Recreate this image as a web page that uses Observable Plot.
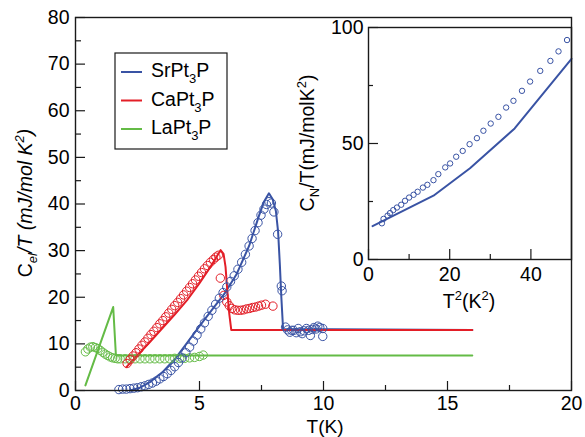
<!DOCTYPE html>
<html><head><meta charset="utf-8">
<script src="https://cdn.jsdelivr.net/npm/d3@7"></script>
<script src="https://cdn.jsdelivr.net/npm/@observablehq/plot@0.6"></script>
<style>
body{margin:0;background:#fff;}
#wrap{position:relative;width:585px;height:437px;background:#fff;}
#wrap svg{position:absolute;left:0;top:0;}
</style></head><body><div id="wrap"></div>
<script>
// ---- Main panel data ----
const srLineX = [2.2, 2.6, 3.0, 3.5, 4.0, 4.5, 5.0, 5.5, 6.0, 6.5, 7.0, 7.4, 7.6, 7.8, 7.95, 8.08, 8.17, 8.24, 8.3, 8.37, 16];
const srLineY = [0, 0.6, 1.8, 3.9, 6.7, 10.2, 13.8, 17.3, 20.7, 25.0, 31.0, 37.5, 40.5, 42.3, 41.0, 38.5, 34, 27, 20, 13.2, 13.0];
const srDotX = [1.75,1.9,2.05,2.2,2.35,2.5,2.65,2.8,2.95,3.1,3.25,3.4,3.55,3.7,3.85,4.0,4.15,4.3,4.45,4.6,4.75,4.9,5.05,5.2,5.35,5.5,5.65,5.8,5.95,6.1,6.25,6.4,6.55,6.7,6.85,7.0,7.12,7.24,7.36,7.48,7.6,7.7,7.8,7.9,8.0,8.15,8.3,8.33,
  8.47,8.55,8.64,8.72,8.8,8.9,8.98,9.06,9.14,9.22,9.31,9.4,9.47,9.55,9.61,9.7,9.77,9.85,9.97,9.97];
const srDotY = [0.2,0.3,0.3,0.4,0.5,0.6,0.8,1.0,1.3,1.6,2.0,2.5,3.0,3.6,4.3,5.1,6.0,7.0,8.1,9.3,10.6,11.9,13.2,14.5,15.9,17.2,18.5,19.8,21.0,22.2,23.4,24.6,26.0,27.5,29.2,31.0,32.6,34.3,36.0,37.6,38.9,39.9,40.5,40.2,38.3,33.5,22.4,21.4,
  13.6,13.0,12.5,12.9,12.9,12.4,13.3,12.6,12.2,12.8,13.3,12.9,11.8,13.1,13.5,13.2,13.8,13.5,13.3,11.6];

const caLineX = [2.05, 3.0, 4.0, 4.5, 5.0, 5.5, 5.85, 5.97, 6.05, 6.12, 6.2, 6.28, 16];
const caLineY = [5.0, 10.4, 16.3, 19.4, 23.0, 27.0, 30.1, 29.3, 26.5, 21.5, 16.5, 13.0, 13.0];
const caDotX = [2.08,2.2,2.32,2.44,2.56,2.68,2.8,2.92,3.04,3.16,3.28,3.4,3.52,3.64,3.76,3.88,4.0,4.12,4.24,4.36,4.48,4.6,4.72,4.84,4.96,5.08,5.2,5.32,5.44,5.56,5.66,5.76,5.84,5.98,6.1,6.2,6.3,6.42,6.54,6.66,6.78,6.9,7.02,7.14,7.26,7.38,7.5,7.66,7.96];
const caDotY = [5.8,6.6,7.4,8.1,8.9,9.7,10.4,11.2,12.0,12.7,13.5,14.3,15.0,15.8,16.6,17.4,18.2,18.9,19.7,20.5,21.3,22.1,22.9,23.7,24.5,25.3,26.1,26.8,27.5,28.1,28.6,29.0,24.1,20.4,19.0,18.2,17.6,17.3,17.2,17.2,17.3,17.5,17.6,17.8,17.9,18.1,18.3,18.5,18.1];

const laLineX = [0.4, 1.52, 1.63, 16];
const laLineY = [1.1, 17.9, 7.5, 7.5];
const laDotX = [0.4,0.5,0.6,0.7,0.8,0.9,1.0,1.1,1.2,1.3,1.4,1.5,1.6,1.7,1.8,2.0,2.2,2.4,2.6,2.8,3.0,3.2,3.4,3.6,3.8,4.0,4.2,4.4,4.6,4.8,5.0,5.15];
const laDotY = [8.3,8.9,9.3,9.4,9.2,9.0,8.6,8.2,7.8,7.5,7.2,7.0,6.9,6.8,6.8,6.8,6.8,6.8,6.8,6.8,6.8,6.8,6.8,6.8,6.8,6.9,6.9,6.9,7.0,7.1,7.3,7.6];

// ---- Inset data (C_N/T vs T^2) ----
const inLineX = [1, 16, 25, 36, 50];
const inLineY = [14.4, 27.5, 39.3, 56.5, 86.5];
const inDotX = [3.3,3.7,4.7,5.3,6.1,7.0,8.05,9.0,10.0,11.1,12.1,13.4,14.5,16.0,17.2,18.9,20.1,21.6,23.2,24.9,26.7,28.3,30.1,32.0,33.9,35.7,37.8,39.8,42.3,44.8,46.8,48.9];
const inDotY = [15.6,17.5,18.9,20.0,21.3,22.4,23.6,25.3,26.7,27.9,29.2,31.0,32.2,34.2,36.8,39.7,41.4,44.3,46.8,49.7,52.3,55.5,58.6,61.5,65.5,68.4,72.7,76.7,81.3,85.6,89.7,94.6];

// ---- Ticks ----
const xMajor = [0, 5, 10, 15, 20];
const xMinor = [2.5, 7.5, 12.5, 17.5];
const yMajor = [0, 10, 20, 30, 40, 50, 60, 70, 80];
const yMinor = [5, 15, 25, 35, 45, 55, 65, 75];
const inXMajor = [0, 20, 40];
const inXMinor = [10, 30];
const inYMajor = [0, 50, 100];
const inYMinor = [25, 75];

const seriesNames = ["SrPt", "CaPt", "LaPt"];
const BLUE = "#3953a4", RED = "#e31e27", GREEN = "#64bb46";
const colors = [BLUE, RED, GREEN];

const pts = (xs, ys) => xs.map((x, i) => ({x, y: ys[i]}));
const FONT = "'Liberation Sans', Arial, Helvetica, sans-serif";
const AX = "#1a1a1a";

const W = 585, H = 437;
const mL = 75, mR = 14, mT = 17, mB = 47;
const pw = W - mL - mR, ph = H - mT - mB;

const main = Plot.plot({
  width: W, height: H,
  marginLeft: mL, marginRight: mR, marginTop: mT, marginBottom: mB,
  style: {fontFamily: FONT, background: "transparent", color: "#000"},
  x: {domain: [0, 20]},
  y: {domain: [0, 80]},
  marks: [
    Plot.ruleX(xMajor, {insetTop: ph - 9, stroke: AX, strokeWidth: 1.2}),
    Plot.ruleX(xMinor, {insetTop: ph - 5, stroke: AX, strokeWidth: 1.2}),
    Plot.ruleY(yMajor, {insetRight: pw - 10, stroke: AX, strokeWidth: 1.2}),
    Plot.ruleY(yMinor, {insetRight: pw - 6, stroke: AX, strokeWidth: 1.2}),
    Plot.axisX(xMajor, {tickSize: 0, tickPadding: 6, label: null, fontSize: 19.5}),
    Plot.axisY(yMajor, {tickSize: 0, tickPadding: 6, label: null, fontSize: 19.5}),
    Plot.line(pts(laLineX, laLineY), {x: "x", y: "y", stroke: GREEN, strokeWidth: 2}),
    Plot.line(pts(srLineX, srLineY), {x: "x", y: "y", stroke: BLUE, strokeWidth: 2}),
    Plot.line(pts(caLineX, caLineY), {x: "x", y: "y", stroke: RED, strokeWidth: 2}),
    Plot.dot(pts(laDotX, laDotY), {x: "x", y: "y", r: 4.2, stroke: GREEN, strokeWidth: 1, fill: "none"}),
    Plot.dot(pts(caDotX, caDotY), {x: "x", y: "y", r: 4.2, stroke: RED, strokeWidth: 1, fill: "none"}),
    Plot.dot(pts(srDotX, srDotY), {x: "x", y: "y", r: 4.2, stroke: BLUE, strokeWidth: 1, fill: "none"}),
    Plot.frame({stroke: AX, strokeWidth: 1.4})
  ]
});

const iL = 368, iR = 14, iT = 27, iB = H - 259;
const ipw = W - iL - iR, iph = H - iT - iB;
const inset = Plot.plot({
  width: W, height: H,
  marginLeft: iL, marginRight: iR, marginTop: iT, marginBottom: iB,
  style: {fontFamily: FONT, background: "transparent", color: "#000"},
  x: {domain: [0, 50]},
  y: {domain: [0, 100]},
  marks: [
    Plot.ruleX(inXMajor, {insetTop: iph - 10, stroke: AX, strokeWidth: 1.2}),
    Plot.ruleX(inXMinor, {insetTop: iph - 5, stroke: AX, strokeWidth: 1.2}),
    Plot.ruleY(inYMajor, {insetRight: ipw - 10, stroke: AX, strokeWidth: 1.2}),
    Plot.ruleY(inYMinor, {insetRight: ipw - 5, stroke: AX, strokeWidth: 1.2}),
    Plot.axisX(inXMajor, {tickSize: 0, tickPadding: 8, label: null, fontSize: 19.5}),
    Plot.axisY(inYMajor, {tickSize: 0, tickPadding: 5, label: null, fontSize: 19.5}),
    Plot.line(pts(inLineX, inLineY), {x: "x", y: "y", stroke: BLUE, strokeWidth: 2}),
    Plot.dot(pts(inDotX, inDotY), {x: "x", y: "y", r: 2.7, stroke: BLUE, strokeWidth: 1, fill: "none"}),
    Plot.frame({stroke: AX, strokeWidth: 1.4})
  ]
});

const wrap = document.getElementById("wrap");
wrap.appendChild(main);
wrap.appendChild(inset);

// ---- Labels with sub/superscripts ----
const sm = d3.select(main);
const yl = sm.append("text")
  .attr("transform", "translate(32,203) rotate(-90)")
  .attr("text-anchor", "middle")
  .style("font-family", FONT).style("font-size", "19.5px").attr("fill", "#000");
yl.append("tspan").text("C");
yl.append("tspan").attr("font-size", "13px").attr("dy", 5).style("font-style", "italic").text("el");
yl.append("tspan").attr("dy", -5).style("font-style", "italic").text("/T (mJ/mol K");
yl.append("tspan").attr("font-size", "13px").attr("dy", -8).style("font-style", "italic").text("2");
yl.append("tspan").attr("dy", 8).style("font-style", "italic").text(")");

sm.append("text").attr("x", 325).attr("y", 433).attr("text-anchor", "middle")
  .style("font-family", FONT).style("font-size", "19px").attr("fill", "#000").text("T(K)");

// Legend
const lg = sm.append("g");
lg.append("rect").attr("x", 115).attr("y", 53).attr("width", 112).attr("height", 96)
  .attr("fill", "white").attr("stroke", AX).attr("stroke-width", 1.2);
seriesNames.forEach((nm, i) => {
  const cy = 72 + i * 28.5;
  lg.append("line").attr("x1", 121).attr("x2", 142).attr("y1", cy).attr("y2", cy)
    .attr("stroke", colors[i]).attr("stroke-width", 2);
  const t = lg.append("text").attr("x", 151).attr("y", cy + 5).attr("text-anchor", "start")
    .style("font-family", FONT).style("font-size", "19.5px").attr("fill", "#000");
  t.append("tspan").text(nm);
  t.append("tspan").attr("font-size", "13px").attr("dy", 6).text("3");
  t.append("tspan").attr("dy", -6).text("P");
});

// Inset labels
const si = d3.select(inset);
const il = si.append("text")
  .attr("transform", "translate(314,143) rotate(-90)")
  .attr("text-anchor", "middle")
  .style("font-family", FONT).style("font-size", "19.5px").attr("fill", "#000");
il.append("tspan").text("C");
il.append("tspan").attr("font-size", "13px").attr("dy", 5).text("N");
il.append("tspan").attr("dy", -5).text("/T(mJ/molK");
il.append("tspan").attr("font-size", "13px").attr("dy", -8).text("2");
il.append("tspan").attr("dy", 8).text(")");

const xl = si.append("text").attr("x", 469).attr("y", 308).attr("text-anchor", "middle")
  .style("font-family", FONT).style("font-size", "19.5px").attr("fill", "#000");
xl.append("tspan").text("T");
xl.append("tspan").attr("font-size", "13px").attr("dy", -8).text("2");
xl.append("tspan").attr("dy", 8).text("(K");
xl.append("tspan").attr("font-size", "13px").attr("dy", -8).text("2");
xl.append("tspan").attr("dy", 8).text(")");
</script></body></html>
